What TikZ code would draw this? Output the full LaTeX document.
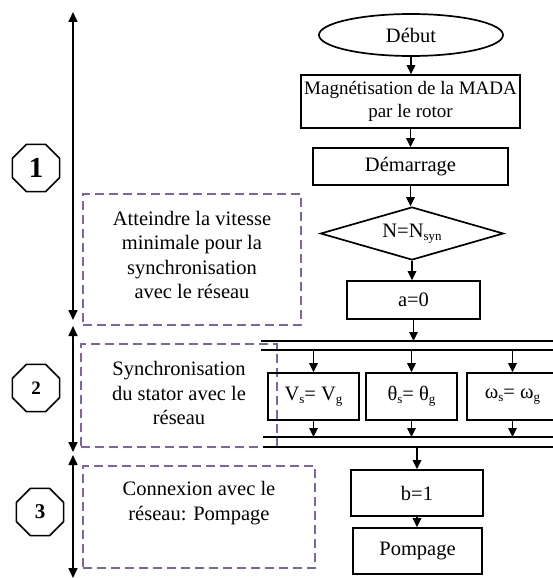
\documentclass[tikz,border=0pt]{standalone}
\usepackage{fontspec}
\setmainfont{Liberation Serif}
\usetikzlibrary{shapes.geometric,arrows.meta}
\definecolor{dashpurple}{RGB}{128,100,162}
\newcommand\lowsub[1]{\raisebox{-0.35ex}{\fontsize{13}{13}\selectfont #1}}
\begin{document}
\begin{tikzpicture}[x=1pt,y=-1pt,
  every node/.style={font=\fontsize{20.5}{24.5}\selectfont, inner sep=0pt},
  blk/.style={draw, line width=1.7pt, rectangle},
  flow/.style={line width=1.6pt, -{Triangle[length=9pt,width=8.5pt]}},
  span/.style={line width=1.6pt, {Triangle[length=10pt,width=9pt]}-{Triangle[length=10pt,width=9pt]}},
  phase/.style={draw=dashpurple, line width=2.4pt, dash pattern=on 9pt off 5pt},
  badge/.style={draw, line width=1.6pt, regular polygon, regular polygon sides=8, minimum size=51pt},
  bus/.style={line width=1.6pt}]
\useasboundingbox (0,0) rectangle (553,578);
\clip (0,0) rectangle (553,578);

% phase frames
\node[phase, minimum width=218pt, minimum height=131pt] (ph1) at (192,259.5) {};
\node[align=center] (ph1txt) at (192,255) {Atteindre la vitesse\\minimale pour la\\synchronisation\\avec le réseau};
\node[phase, minimum width=196pt, minimum height=103pt] (ph2) at (179,395.5) {};
\node[align=center] (ph2txt) at (179,393) {Synchronisation\\du stator avec le\\réseau};
\node[phase, minimum width=232pt, minimum height=102pt] (ph3) at (199,517) {};
\node[align=center] (ph3txt) at (199,503) {Connexion avec le\\réseau: Pompage};

% phase spans on the left
\coordinate (s1top) at (73,12);
\coordinate (s1bot) at (73,320);
\coordinate (s2top) at (73,326);
\coordinate (s2bot) at (73,452);
\coordinate (s3top) at (73,455);
\coordinate (s3bot) at (73,578);
\draw[span] (s1top) -- (s1bot);
\draw[span] (s2top) -- (s2bot);
\draw[span] (s3top) -- (s3bot);

% phase numbers
\node[badge, font=\bfseries\fontsize{29}{29}\selectfont] (n1) at (36,168) {1};
\node[badge, font=\bfseries\fontsize{19}{19}\selectfont] (n2) at (36,388) {2};
\node[badge, font=\bfseries\fontsize{21}{21}\selectfont] (n3) at (40,512) {3};

% main flow
\node[draw, ellipse, line width=1.7pt, minimum width=184pt, minimum height=42pt] (debut) at (411,35) {Début};
\node[blk, minimum width=219pt, minimum height=53pt, align=center, font=\fontsize{19}{23}\selectfont] (magn) at (410.5,101.5) {Magnétisation de la MADA\\par le rotor};
\node[blk, minimum width=195pt, minimum height=37pt] (dem) at (410.5,166.5) {Démarrage};
\node[draw, diamond, line width=1.7pt, aspect=3.4, minimum width=183pt, minimum height=53pt] (test) at (412,233.5) {N=N\lowsub{syn}};
\node[blk, minimum width=133pt, minimum height=38pt] (a0) at (413.5,300) {a=0};

\draw[flow] (debut.south) -- (debut.south |- magn.north);
\draw[flow] (magn.south) -- (magn.south |- dem.north);
\draw[flow] (dem.south) -- (dem.south |- test.north);
\draw[flow] (test.south) -- (test.south |- a0.north);

% synchronisation buses
\coordinate (busA1) at (261,341);
\coordinate (busA1e) at (560,341);
\coordinate (busA2) at (261,350);
\coordinate (busA2e) at (560,350);
\coordinate (busB1) at (263,437);
\coordinate (busB1e) at (560,437);
\coordinate (busB2) at (263,447);
\coordinate (busB2e) at (560,447);
\draw[bus] (busA1) -- (busA1e);
\draw[bus] (busA2) -- (busA2e);
\draw[bus] (busB1) -- (busB1e);
\draw[bus] (busB2) -- (busB2e);

\draw[flow] (a0.south) -- (a0.south |- busA1);

\node[blk, minimum width=91pt, minimum height=47pt] (vbox) at (313.5,396.5) {V\lowsub{s}= V\lowsub{g}};
\node[blk, minimum width=91pt, minimum height=47pt] (tbox) at (411.5,396.5) {θ\lowsub{s}= θ\lowsub{g}};
\node[blk, minimum width=91pt, minimum height=47pt] (wbox) at (512.5,396.5) {ω\lowsub{s}= ω\lowsub{g}};

\foreach \b in {vbox,tbox,wbox}{
  \draw[flow] (\b.north |- busA2) -- (\b.north);
  \draw[flow] (\b.south) -- (\b.south |- busB1);
}

\node[blk, minimum width=132pt, minimum height=46pt] (b1) at (417,493) {b=1};
\node[blk, minimum width=129pt, minimum height=46pt] (pomp) at (417.5,551) {Pompage};

\draw[flow] (b1.north |- busB2) -- (b1.north);
\draw[flow] (b1.south) -- (b1.south |- pomp.north);
\end{tikzpicture}
\end{document}
